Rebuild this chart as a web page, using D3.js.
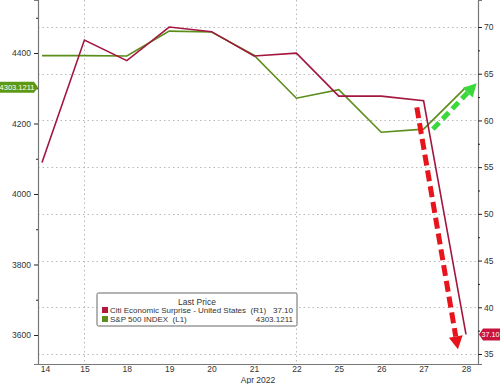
<!DOCTYPE html>
<html>
<head>
<meta charset="utf-8">
<script src="https://cdn.jsdelivr.net/npm/d3@7"></script>
<style>
  body { margin: 0; background: #fff; }
  svg { display: block; font-family: "Liberation Sans", Arial, sans-serif; }
</style>
</head>
<body>
<svg width="500" height="384"></svg>
<script>
// trading days, Apr 2022
var days = ["14", "15", "18", "19", "20", "21", "22", "25", "26", "27", "28"];
// Citi Economic Surprise - United States (right axis)
var citi = [55.5, 68.6, 66.4, 70.0, 69.5, 66.9, 67.2, 62.6, 62.6, 62.1, 37.1];
// S&P 500 INDEX (left axis)
var spx = [4392.59, 4392.59, 4391.69, 4462.21, 4459.45, 4393.66, 4271.78, 4296.12, 4175.20, 4183.96, 4303.12];
var leftTicks = [3600, 3800, 4000, 4200, 4400];
var rightTicks = [35, 40, 45, 50, 55, 60, 65, 70];
var vGridDays = ["15", "22"];
// hand drawn arrows: [day index, value] start -> end
var redArrow = [[8.84, 61.4], [9.81, 35.5]];     // right axis
var greenArrow = [[9.22, 4184], [10.25, 4314]];  // left axis

var svg = d3.select("svg"),
    pL = 38, pR = 478, pT = 0, pB = 364;

var x = d3.scalePoint().domain(days).range([42, 466]);
var xi = function(i) { return x(days[0]) + i * x.step(); };
var yL = d3.scaleLinear().domain([3517.7, 4550.4]).range([pB, pT]);
var yR = d3.scaleLinear().domain([33.93, 72.89]).range([pB, pT]);

var red = "#a3173f", green = "#5b8d1b";

// grid
var grid = svg.append("g").attr("stroke", "#b8b8b8").attr("stroke-dasharray", "1.5,3").attr("stroke-width", 1);
grid.selectAll("line.h").data(rightTicks).enter().append("line")
  .attr("x1", pL).attr("x2", pR)
  .attr("y1", function(d) { return Math.round(yR(d)) + 0.5; })
  .attr("y2", function(d) { return Math.round(yR(d)) + 0.5; });
grid.selectAll("line.v").data(vGridDays).enter().append("line")
  .attr("y1", pT).attr("y2", pB)
  .attr("x1", function(d) { return Math.round(x(d)) + 0.5; })
  .attr("x2", function(d) { return Math.round(x(d)) + 0.5; });

// axes
var axL = svg.append("g").attr("transform", "translate(" + pL + ",0)")
  .call(d3.axisLeft(yL).tickValues(leftTicks).tickSize(4).tickPadding(3).tickFormat(d3.format("d")));
svg.append("g").attr("transform", "translate(" + pL + ",0)")
  .call(d3.axisLeft(yL).tickValues([3700, 3900, 4100, 4300, 4500]).tickSize(2).tickFormat(""))
  .select(".domain").remove();
var axR = svg.append("g").attr("transform", "translate(" + pR + ",0)")
  .call(d3.axisRight(yR).tickValues(rightTicks).tickSize(4).tickPadding(2));
svg.append("g").attr("transform", "translate(" + pR + ",0)")
  .call(d3.axisRight(yR).tickValues(d3.range(37.5, 72.5, 5)).tickSize(2).tickFormat(""))
  .select(".domain").remove();
var axB = svg.append("g").attr("transform", "translate(0," + pB + ")")
  .call(d3.axisBottom(x).tickSize(0).tickPadding(2));
axB.select(".domain").attr("d", "M" + pL + ",0.5H" + pR);

svg.selectAll(".domain").attr("stroke", "#777").attr("stroke-width", 1.2);
svg.selectAll(".tick line").attr("stroke", "#222");
svg.selectAll(".tick text").attr("font-size", 8.5).attr("fill", "#333")
  .attr("font-family", "Liberation Sans, Arial, sans-serif");
axB.selectAll(".tick text").filter(function(d) { return d === "14"; }).attr("dx", 3);

svg.append("text").attr("x", 258).attr("y", 383).attr("text-anchor", "middle")
  .attr("font-size", 8.5).attr("fill", "#333").text("Apr 2022");

// lines
var lineR = d3.line().x(function(d, i) { return x(days[i]); }).y(function(d) { return yR(d); });
var lineL = d3.line().x(function(d, i) { return x(days[i]); }).y(function(d) { return yL(d); });
svg.append("path").datum(spx).attr("d", lineL).attr("fill", "none")
  .attr("stroke", green).attr("stroke-width", 1.6);
svg.append("path").datum(citi).attr("d", lineR).attr("fill", "none")
  .attr("stroke", red).attr("stroke-width", 1.6);

// arrows
function arrow(pts, ys, color, dash) {
  var x1 = xi(pts[0][0]), y1 = ys(pts[0][1]), x2 = xi(pts[1][0]), y2 = ys(pts[1][1]);
  var a = Math.atan2(y2 - y1, x2 - x1), head = 13, w = 7;
  var bx = x2 - head * Math.cos(a), by = y2 - head * Math.sin(a);
  svg.append("line").attr("x1", x1).attr("y1", y1).attr("x2", bx).attr("y2", by)
    .attr("stroke", color).attr("stroke-width", 5).attr("stroke-dasharray", dash);
  svg.append("path").attr("fill", color)
    .attr("d", "M" + x2 + "," + y2 +
      "L" + (bx + w * Math.sin(a)) + "," + (by - w * Math.cos(a)) +
      "L" + (bx - w * Math.sin(a)) + "," + (by + w * Math.cos(a)) + "Z");
}
arrow(redArrow, yR, "#e8141c", "11,5");
arrow(greenArrow, yL, "#3ad83a", "9,5");

// last price tags
var gy = yL(spx[spx.length - 1]);
svg.append("path").attr("fill", "#5c9a16")
  .attr("d", "M0," + (gy - 5.5) + "H34L38," + gy + "L34," + (gy + 5.5) + "H0Z");
svg.append("text").attr("x", 17).attr("y", gy + 2.7).attr("text-anchor", "middle")
  .attr("font-size", 7.5).attr("fill", "#fff").text("4303.1211");
var ry = yR(citi[citi.length - 1]);
svg.append("path").attr("fill", "#c8143c")
  .attr("d", "M500," + (ry - 6) + "H483L479," + ry + "L483," + (ry + 6) + "H500Z");
svg.append("text").attr("x", 481.5).attr("y", ry + 2.7).attr("font-size", 7.2)
  .attr("fill", "#fff").text("37.10");

// legend
var lg = svg.append("g").attr("transform", "translate(97,293)");
lg.append("rect").attr("width", 200).attr("height", 33).attr("rx", 1.5)
  .attr("fill", "#fff").attr("stroke", "#666");
lg.append("text").attr("x", 100).attr("y", 12).attr("text-anchor", "middle")
  .attr("font-size", 8.5).attr("fill", "#333").text("Last Price");
var rows = [
  { name: "Citi Economic Surprise - United States  (R1)", value: "37.10", color: "#b5173a" },
  { name: "S&P 500 INDEX  (L1)", value: "4303.1211", color: green }
];
var rg = lg.selectAll("g.row").data(rows).enter().append("g")
  .attr("transform", function(d, i) { return "translate(0," + (20 + i * 9) + ")"; });
rg.append("rect").attr("x", 5).attr("y", -6).attr("width", 6).attr("height", 6)
  .attr("fill", function(d) { return d.color; });
rg.append("text").attr("x", 13).attr("font-size", 8).attr("fill", "#333")
  .attr("xml:space", "preserve").style("white-space", "pre")
  .text(function(d) { return d.name; });
rg.append("text").attr("x", 196).attr("text-anchor", "end").attr("font-size", 8).attr("fill", "#333")
  .text(function(d) { return d.value; });
</script>
</body>
</html>
